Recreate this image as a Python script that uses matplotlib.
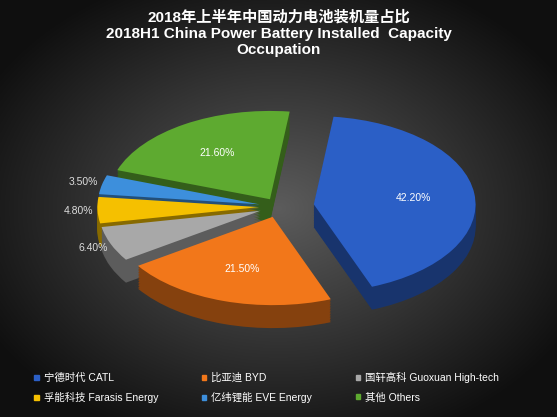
import numpy as np
import matplotlib
matplotlib.use("Agg")
import matplotlib.pyplot as plt
import matplotlib.colors as mc

plt.rcParams['font.family'] = ['Liberation Sans', 'Noto Sans CJK SC', 'DejaVu Sans']

labels = ["宁德时代 CATL", "比亚迪 BYD", "国轩高科 Guoxuan High-tech",
          "孚能科技 Farasis Energy", "亿纬锂能 EVE Energy", "其他 Others"]
values = [42.2, 21.5, 6.4, 4.8, 3.5, 21.6]
pct_labels = ["42.20%", "21.50%", "6.40%", "4.80%", "3.50%", "21.60%"]
colors = ["#2b5fc6", "#f2771a", "#a8a8a8", "#f5c000", "#3d8fdc", "#5eaa30"]
explode = [0.22, 0.12, 0.12, 0.12, 0.12, 0.10]

fig = plt.figure(figsize=(5.57, 4.17), dpi=100)
bg = fig.add_axes([0, 0, 1, 1], zorder=-10)
yy, xx = np.mgrid[-1:1:300j, -1:1:400j]
r = np.sqrt(xx**2 + yy**2)
g = np.clip(0.36 - 0.25 * r, 0.06, 1)
bg.imshow(np.dstack([g, g, g]), aspect='auto', extent=[0, 1, 0, 1])
bg.axis('off')

fig.text(0.5, 0.975, "2018年上半年中国动力电池装机量占比\n2018H1 China Power Battery Installed  Capacity\nOccupation",
         ha='center', va='top', color='white', fontsize=11, fontweight='bold', linespacing=1.2)

ax = fig.add_axes([0.05, 0.14, 0.9, 0.72])
XL, YL = (-1.55, 1.55), (-1.72, 1.68)

start = 83
depth = 0.26
steps = 14
for i in range(steps, 0, -1):
    off = -depth * i / steps
    dark = [tuple(np.array(mc.to_rgb(c)) * 0.55) for c in colors]
    ax.pie(values, colors=dark, startangle=start, counterclock=False,
           explode=explode, center=(0, off), frame=True,
           wedgeprops=dict(linewidth=0))
wedges, _ = ax.pie(values, colors=colors, startangle=start, counterclock=False,
                   explode=explode, center=(0, 0), frame=True,
                   wedgeprops=dict(linewidth=0))
ax.set_xlim(*XL)
ax.set_ylim(*YL)
ax.set_aspect('auto')
ax.axis('off')

for w, lab, v, e in zip(wedges, pct_labels, values, explode):
    ang = np.deg2rad((w.theta1 + w.theta2) / 2)
    d = 0.62 if v > 10 else 1.12
    x = (d + e) * np.cos(ang)
    y = (d + e) * np.sin(ang)
    ax.text(x, y, lab, ha='center', va='center', fontsize=7.5,
            color='white' if v > 10 else '#dddddd')

order = [0, 3, 1, 4, 2, 5]
handles = [plt.Rectangle((0, 0), 1, 1, color=colors[i]) for i in order]
fig.legend(handles, [labels[i] for i in order], loc='lower left', ncol=3, frameon=False,
           fontsize=7.5, labelcolor='white', bbox_to_anchor=(0.045, 0.01),
           handlelength=0.4, handleheight=0.4, columnspacing=4.2, handletextpad=0.5,
           labelspacing=0.9)

fig.savefig("out.png", dpi=100)
